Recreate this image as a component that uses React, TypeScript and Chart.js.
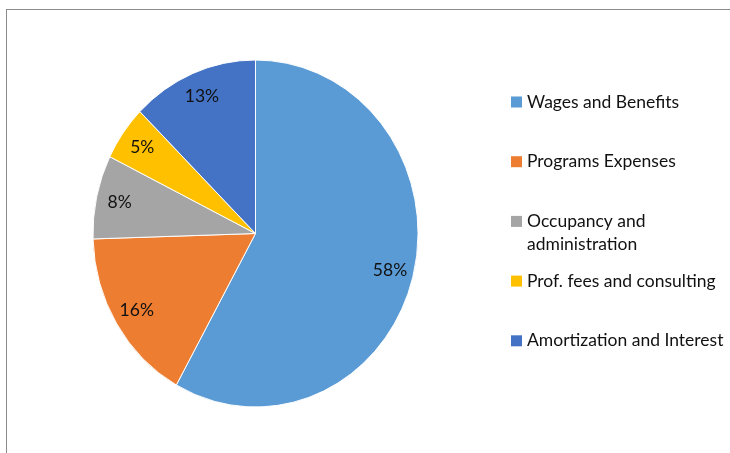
import React, { useEffect, useRef } from 'react';
import { Chart, registerables } from 'chart.js';

Chart.register(...registerables);

const categories = [
  'Wages and Benefits',
  'Programs Expenses',
  'Occupancy and administration',
  'Prof. fees and consulting',
  'Amortization and Interest',
];
const legendLines = [
  ['Wages and Benefits'],
  ['Programs Expenses'],
  ['Occupancy and', 'administration'],
  ['Prof. fees and consulting'],
  ['Amortization and Interest'],
];
const shares = [58.1, 16.4, 7.8, 5.1, 12.6];
const colors = ['#5B9BD5', '#ED7D31', '#A5A5A5', '#FFC000', '#4472C4'];

const FONT = '17.5px Lato, "Open Sans", sans-serif';
const TEXT_COLOR = '#111111';
const SX = 163 / 174; // horizontal squash of the pie, as in the reference

export default function App() {
  const ref = useRef<HTMLCanvasElement | null>(null);

  useEffect(() => {
    const canvas = ref.current;
    if (!canvas) return;

    const framePlugin = {
      id: 'frame',
      beforeDraw(chart: any) {
        const ctx = chart.ctx;
        ctx.save();
        ctx.fillStyle = '#ffffff';
        ctx.fillRect(0, 0, chart.width, chart.height);
        ctx.strokeStyle = '#8a8a8a';
        ctx.lineWidth = 1;
        ctx.strokeRect(6.5, 9.5, 1000, 1000);
        ctx.restore();
      },
    };

    const squashPlugin = {
      id: 'squash',
      beforeDatasetsDraw(chart: any) {
        const arc = chart.getDatasetMeta(0).data[0];
        const ctx = chart.ctx;
        ctx.save();
        ctx.translate(arc.x, 0);
        ctx.scale(SX, 1);
        ctx.translate(-arc.x, 0);
      },
      afterDatasetsDraw(chart: any) {
        const ctx = chart.ctx;
        ctx.restore();
        const meta = chart.getDatasetMeta(0);
        const data = chart.data.datasets[0].data as number[];
        const total = data.reduce((a, b) => a + b, 0);
        ctx.save();
        ctx.font = FONT;
        ctx.fillStyle = TEXT_COLOR;
        ctx.textAlign = 'center';
        ctx.textBaseline = 'middle';
        meta.data.forEach((el: any, i: number) => {
          const p = el.getProps(['x', 'y', 'startAngle', 'endAngle', 'outerRadius'], true);
          const mid = (p.startAngle + p.endAngle) / 2;
          const r = p.outerRadius * 0.855;
          const x = p.x + Math.cos(mid) * r * SX;
          const y = p.y + Math.sin(mid) * r;
          ctx.fillText(Math.round((data[i] / total) * 100) + '%', x, y);
        });
        ctx.restore();
      },
    };

    const legendPlugin = {
      id: 'sideLegend',
      afterDraw(chart: any) {
        const ctx = chart.ctx;
        const left = 511;
        const top = 102;
        const step = 59.7;
        const box = 11;
        const lineH = 23;
        ctx.save();
        ctx.font = FONT;
        ctx.textAlign = 'left';
        ctx.textBaseline = 'middle';
        legendLines.forEach((lines, i) => {
          const cy = top + i * step;
          ctx.fillStyle = colors[i];
          ctx.fillRect(left, cy - box / 2, box, box);
          ctx.fillStyle = TEXT_COLOR;
          lines.forEach((t, j) => ctx.fillText(t, left + 16, cy + j * lineH));
        });
        ctx.restore();
      },
    };

    const chart = new Chart(canvas, {
      type: 'pie',
      data: {
        labels: categories,
        datasets: [
          {
            data: shares,
            backgroundColor: colors,
            borderColor: '#ffffff',
            borderWidth: 1,
          },
        ],
      },
      options: {
        responsive: false,
        animation: false,
        layout: { padding: { left: 81.5, right: 300.5, top: 59.5, bottom: 45.5 } },
        plugins: {
          legend: { display: false },
          tooltip: { enabled: false },
        },
      },
      plugins: [framePlugin, squashPlugin, legendPlugin],
    });

    return () => chart.destroy();
  }, []);

  return (
    <div style={{ position: 'fixed', left: 0, top: 0, width: 730, height: 453 }}>
      <canvas ref={ref} width={730} height={453} style={{ display: 'block' }} />
    </div>
  );
}
